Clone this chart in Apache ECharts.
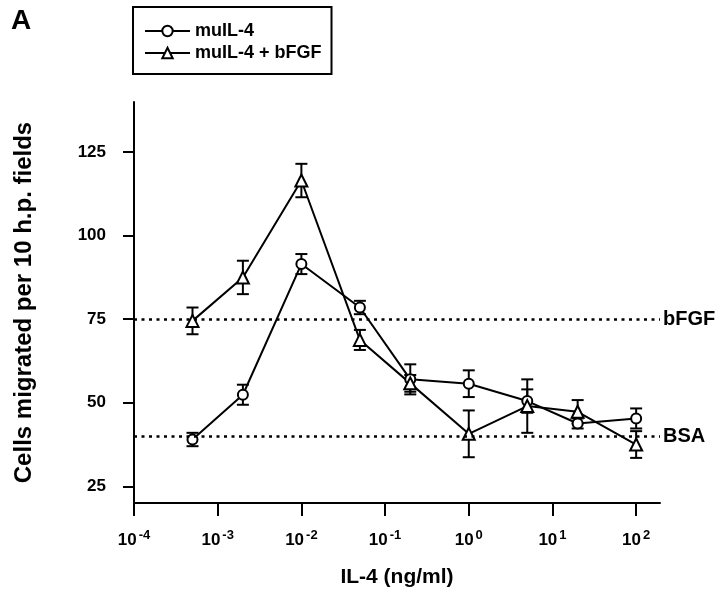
<!DOCTYPE html>
<html>
<head>
<meta charset="utf-8">
<script src="https://cdn.jsdelivr.net/npm/echarts@6/dist/echarts.min.js"></script>
<style>html,body{margin:0;padding:0;background:#fff}#c{width:720px;height:600px}</style>
</head>
<body>
<div id="c"></div>
<script>
// IL-4 concentrations (ng/ml)
var concentrations = [5e-4, 2e-3, 1e-2, 5e-2, 0.2, 1, 5, 20, 100];
var muIL4 = [39, 52.4, 91.5, 78.5, 57, 55.7, 50.5, 43.8, 45.3];
var muIL4Err = [2, 3, 3, 2, 4.5, 4, 3.5, 1.5, 3];
var muIL4bFGF = [74.5, 87.5, 116.5, 68.8, 55.8, 40.7, 49, 47.3, 37.5];
var muIL4bFGFErr = [4, 5, 5, 3, 2.5, 7, 8, 3.5, 4];
var refNames = ['bFGF', 'BSA'];
var refValues = [75, 40];
var xTickExponents = [-4, -3, -2, -1, 0, 1, 2];
var yTicks = [25, 50, 75, 100, 125];
var seriesNames = ['muIL-4', 'muIL-4 + bFGF'];

var FONT = '"Liberation Sans", Arial, sans-serif';

function pts(vals) {
  return concentrations.map(function (c, i) { return [Math.log10(c), vals[i]]; });
}
function errPts(vals, errs) {
  return concentrations.map(function (c, i) { return [Math.log10(c), vals[i], errs[i]]; });
}
function errRender(params, api) {
  var x = api.value(0), y = api.value(1), e = api.value(2);
  var t = api.coord([x, y + e]), b = api.coord([x, y - e]);
  var h = 6;
  var st = { stroke: '#000', lineWidth: 2 };
  return {
    type: 'group',
    children: [
      { type: 'line', shape: { x1: t[0], y1: t[1], x2: b[0], y2: b[1] }, style: st },
      { type: 'line', shape: { x1: t[0] - h, y1: t[1], x2: t[0] + h, y2: t[1] }, style: st },
      { type: 'line', shape: { x1: b[0] - h, y1: b[1], x2: b[0] + h, y2: b[1] }, style: st }
    ]
  };
}

var chart = echarts.init(document.getElementById('c'), null, { renderer: 'canvas' });
var lineCommon = {
  type: 'line',
  lineStyle: { color: '#000', width: 2 },
  itemStyle: { color: '#fff', borderColor: '#000', borderWidth: 2 },
  emphasis: { disabled: true },
  z: 3
};
chart.setOption({
  animation: false,
  backgroundColor: '#fff',
  textStyle: { fontFamily: FONT, color: '#000' },
  title: {
    text: 'A', left: 6, top: 2,
    textStyle: { fontFamily: FONT, fontSize: 28, fontWeight: 'bold', color: '#000' }
  },
  legend: {
    data: seriesNames.map(function (n) { return { name: n }; }),
    orient: 'vertical', left: 133, top: 7,
    padding: [15, 10, 12, 11],
    itemGap: 4, itemWidth: 45, itemHeight: 13,
    borderColor: '#000', borderWidth: 2,
    textStyle: { fontFamily: FONT, fontSize: 18, fontWeight: 'bold', color: '#000' },
    selectedMode: false
  },
  grid: { left: 134, right: 60, top: 102, bottom: 97, containLabel: false },
  xAxis: {
    type: 'value', min: -4, max: 2.285,
    name: 'IL-4 (ng/ml)', nameLocation: 'middle', nameGap: 64,
    nameTextStyle: { fontFamily: FONT, fontSize: 21, fontWeight: 'bold', color: '#000' },
    axisLine: { onZero: false, lineStyle: { color: '#000', width: 2 } },
    axisTick: { customValues: xTickExponents, length: 13, lineStyle: { color: '#000', width: 2 } },
    axisLabel: {
      customValues: xTickExponents, margin: 26,
      formatter: function (v) { return '{b|10}{s|' + v + '}'; },
      rich: {
        b: { fontFamily: FONT, fontSize: 17, fontWeight: 'bold', color: '#000', verticalAlign: 'bottom' },
        s: { fontFamily: FONT, fontSize: 13, fontWeight: 'bold', color: '#000', padding: [0, 0, 7, 2], verticalAlign: 'bottom' }
      }
    },
    splitLine: { show: false }
  },
  yAxis: {
    type: 'value', min: 20, max: 140,
    name: 'Cells migrated per 10 h.p. fields', nameLocation: 'middle', nameGap: 98,
    nameTextStyle: { fontFamily: FONT, fontSize: 24, fontWeight: 'bold', color: '#000' },
    axisLine: { show: true, onZero: false, lineStyle: { color: '#000', width: 2 } },
    axisTick: { show: true, customValues: yTicks, length: 11, lineStyle: { color: '#000', width: 2 } },
    axisLabel: { customValues: yTicks, margin: 28, fontFamily: FONT, fontSize: 17, fontWeight: 'bold', color: '#000' },
    splitLine: { show: false }
  },
  series: [
    {
      name: 'errA', type: 'custom', renderItem: errRender, data: errPts(muIL4, muIL4Err), z: 2, silent: true
    },
    {
      name: 'errB', type: 'custom', renderItem: errRender, data: errPts(muIL4bFGF, muIL4bFGFErr), z: 2, silent: true
    },
    Object.assign({}, lineCommon, { name: seriesNames[0], symbol: 'circle', symbolSize: 10, data: pts(muIL4) }),
    Object.assign({}, lineCommon, { name: seriesNames[1], symbol: 'triangle', symbolSize: 12, data: pts(muIL4bFGF) }),
    {
      name: 'ref', type: 'line', data: [], silent: true, z: 1,
      markLine: {
        silent: true, symbol: ['none', 'none'], animation: false,
        lineStyle: { color: '#000', width: 2.5, type: [3, 4.5] },
        label: {
          position: 'end', distance: 3, formatter: '{b}',
          fontFamily: FONT, fontSize: 20, fontWeight: 'bold', color: '#000'
        },
        data: refNames.map(function (n, i) { return { name: n, yAxis: refValues[i] }; })
      }
    }
  ]
});
</script>
</body>
</html>
